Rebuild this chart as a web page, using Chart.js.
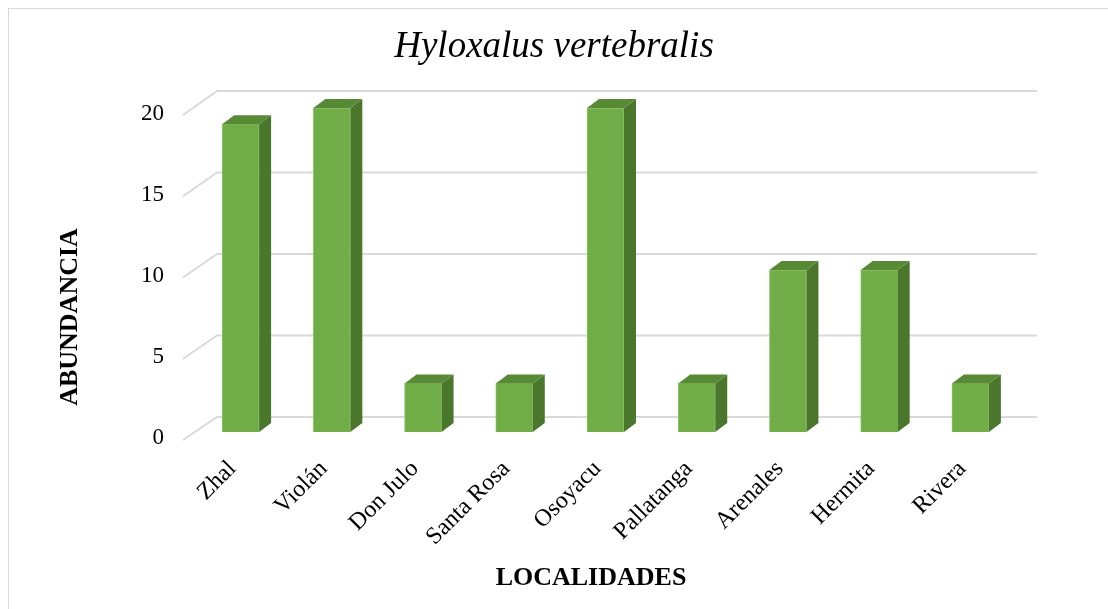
<!DOCTYPE html>
<html>
<head>
<meta charset="utf-8">
<script src="https://cdn.jsdelivr.net/npm/chart.js@4/dist/chart.umd.min.js"></script>
<style>
    html, body { margin: 0; padding: 0; background: #fff; }
    .c-chart-wrap { position: relative; width: 1108px; height: 609px; }
</style>
</head>
<body>
<div class="c-chart-wrap"><canvas class="js-graph-canvas" width="1108" height="609"></canvas></div>
<script>
const chartTitle = 'Hyloxalus vertebralis';
const xTitle = 'LOCALIDADES';
const yTitle = 'ABUNDANCIA';
const localidades = ['Zhal', 'Violán', 'Don Julo', 'Santa Rosa', 'Osoyacu', 'Pallatanga', 'Arenales', 'Hermita', 'Rivera'];
const abundancia = [19, 20, 3, 3, 20, 3, 10, 10, 3];
const yTicks = [0, 5, 10, 15, 20];

const serif = '"Liberation Serif", "Times New Roman", serif';

// fake 3d: back wall, floor diagonals, bar side + top
const depth3d = {
    id: 'depth3d',
    beforeDraw(chart) {
        const ctx = chart.ctx;
        ctx.save();
        ctx.strokeStyle = '#d9d9d9';
        ctx.lineWidth = 1;
        ctx.strokeRect(8.5, 8.5, 1300, 800);
        ctx.restore();
    },
    beforeDatasetsDraw(chart) {
        const ctx = chart.ctx;
        const area = chart.chartArea;
        const y = chart.scales.y;
        ctx.save();
        ctx.strokeStyle = '#d9d9d9';
        ctx.lineWidth = 2;
        yTicks.forEach(v => {
            const py = y.getPixelForValue(v);
            const frontX = area.left - 12;
            const frontY = py + 8 - v / 20;
            const backX = area.left + 22;
            const backY = py - 15 - v / 10;
            ctx.beginPath();
            ctx.moveTo(frontX, frontY);
            ctx.lineTo(backX, backY);
            ctx.lineTo(area.right + 21, backY);
            ctx.stroke();
        });
        ctx.restore();
    },
    afterDatasetsDraw(chart) {
        const ctx = chart.ctx;
        const dx = 12, dy = -9;
        ctx.save();
        chart.getDatasetMeta(0).data.forEach(bar => {
            const l = bar.x - bar.width / 2;
            const r = bar.x + bar.width / 2;
            const t = bar.y;
            const b = bar.base;

            ctx.fillStyle = '#4b772d';
            ctx.beginPath();
            ctx.moveTo(r, t);
            ctx.lineTo(r + dx, t + dy);
            ctx.lineTo(r + dx, b + dy);
            ctx.lineTo(r, b);
            ctx.closePath();
            ctx.fill();

            ctx.fillStyle = '#588a36';
            ctx.beginPath();
            ctx.moveTo(l, t);
            ctx.lineTo(l + dx, t + dy);
            ctx.lineTo(r + dx, t + dy);
            ctx.lineTo(r, t);
            ctx.closePath();
            ctx.fill();
        });
        ctx.restore();
    },
    afterDraw(chart) {
        // axis titles, placed like the excel original
        const ctx = chart.ctx;
        ctx.save();
        ctx.fillStyle = '#000';
        ctx.font = 'bold 26px ' + serif;
        ctx.textAlign = 'center';
        ctx.textBaseline = 'middle';
        ctx.fillText(xTitle, 591, 578);

        ctx.translate(70, 317);
        ctx.rotate(-Math.PI / 2);
        ctx.fillText(yTitle, 0, 0);
        ctx.restore();
    }
};

const ctx = document.querySelector('.js-graph-canvas');
new Chart(ctx, {
    type: 'bar',
    data: {
        labels: localidades,
        datasets: [{
            label: yTitle,
            data: abundancia,
            backgroundColor: '#70ad47',
            borderColor: '#8fc46a',
            borderWidth: 1,
            barThickness: 37
        }]
    },
    options: {
        responsive: false,
        animation: false,
        layout: { padding: 0 },
        plugins: {
            legend: { display: false },
            tooltip: { enabled: false },
            title: {
                display: true,
                text: chartTitle,
                color: '#000',
                font: { family: serif, size: 37, style: 'italic', weight: 'normal', lineHeight: 1.2 },
                padding: { top: 25, bottom: 38.6 }
            }
        },
        scales: {
            x: {
                grid: { display: false, drawTicks: false },
                border: { display: false },
                ticks: {
                    color: '#000',
                    font: { family: serif, size: 24 },
                    minRotation: 45,
                    maxRotation: 45,
                    autoSkip: false,
                    padding: 23,
                    labelOffset: -8
                },
                afterFit(scale) { scale.height = 177; }
            },
            y: {
                min: 0,
                max: 20,
                grid: { display: false, drawTicks: false },
                border: { display: false },
                ticks: {
                    stepSize: 5,
                    color: '#000',
                    font: { family: serif, size: 23 },
                    padding: 31,
                    labelOffset: 6
                },
                afterFit(scale) { scale.width = 195; }
            },
            // empty right margin so the title centres on the whole picture
            yRight: {
                position: 'right',
                grid: { display: false, drawTicks: false },
                border: { display: false },
                ticks: { display: false },
                afterFit(scale) { scale.width = 92; }
            }
        }
    },
    plugins: [depth3d]
});
</script>
</body>
</html>
